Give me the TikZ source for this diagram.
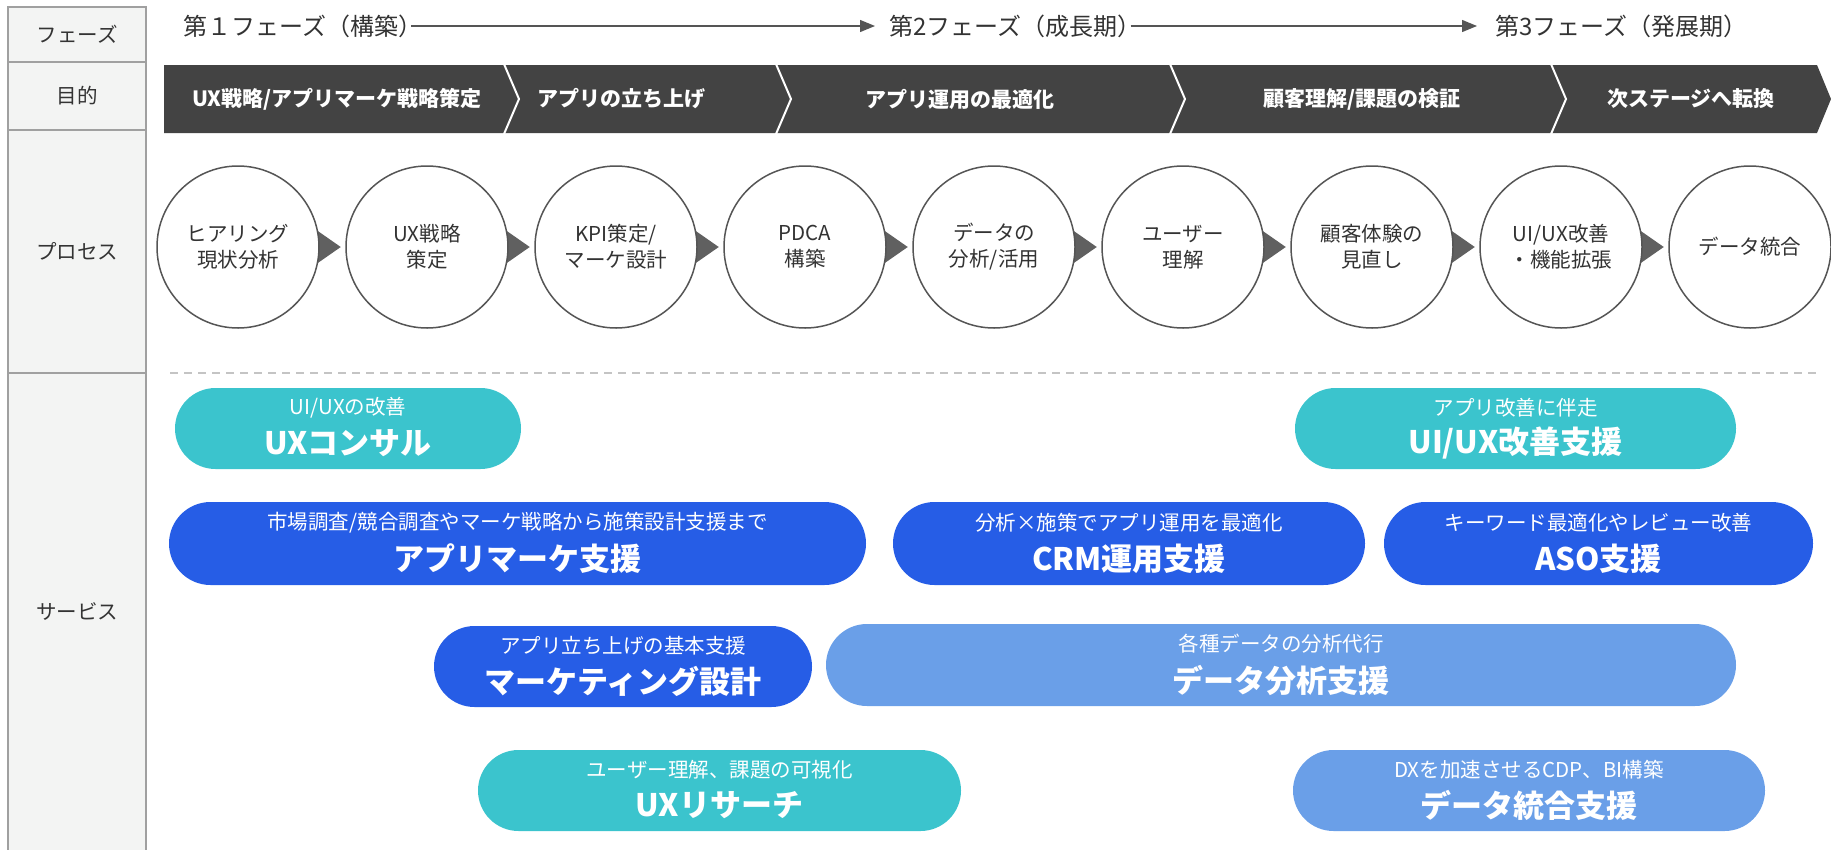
\documentclass[tikz,border=0pt]{standalone}
\usepackage{fontspec}
\setmainfont{Noto Sans CJK JP}
\usetikzlibrary{arrows.meta,shapes.misc,calc,backgrounds}
\definecolor{cyanp}{HTML}{3BC4CD}
\definecolor{bluep}{HTML}{265DE6}
\definecolor{lightp}{HTML}{6A9FE8}
\definecolor{band}{HTML}{434343}
\definecolor{cellfill}{HTML}{F3F4F3}
\definecolor{cellline}{HTML}{A0A0A0}
\definecolor{txt}{HTML}{333333}
\definecolor{ring}{HTML}{555555}
\definecolor{tri}{HTML}{606060}
\definecolor{dashc}{HTML}{C4C4C4}

\newcommand\svc[8]{%
  \node[pill, fill=#6, minimum width=#4pt, minimum height=#5pt] (#1) at (#2,#3) {};
  \node[smalltxt] (#1s) at ($(#1.center)+(0,-21)$) {#7};
  \node[bigtxt] (#1b) at ($(#1.center)+(0,15)$) {#8};
}

\tikzset{
  cell/.style={draw=cellline, fill=cellfill, line width=1.8pt, minimum width=138pt, inner sep=0, text=txt, font=\fontsize{20.5}{22}\selectfont},
  phase/.style={anchor=west, inner sep=0, text=txt, font=\fontsize{24}{28}\selectfont},
  goal/.style={text=white, inner sep=0, font=\fontsize{21}{24}\selectfont\bfseries},
  proc/.style={circle, draw=ring, line width=1.5pt, fill=white, minimum size=162pt, inner sep=0, align=center, text=txt, font=\fontsize{20.5}{26}\selectfont},
  pill/.style={rounded rectangle, draw=none, inner sep=0},
  smalltxt/.style={text=white, inner sep=0, font=\fontsize{20.5}{23}\selectfont},
  bigtxt/.style={text=white, inner sep=0, font=\fontsize{31}{35}\selectfont\bfseries},
  phasearrow/.style={draw=ring, line width=1.3pt, -{Triangle[length=15pt,width=12pt]}},
  sepline/.style={draw=dashc, line width=2pt, dash pattern=on 8pt off 6pt},
  trifill/.style={fill=tri}
}

\begin{document}
\begin{tikzpicture}[x=1pt,y=-1pt]
\useasboundingbox (0,0) rectangle (1831,849);

% left header column
\node[cell, minimum height=55pt] (hphase) at (77,34.5) {フェーズ};
\node[cell, minimum height=68pt] (hgoal) at (77,96) {目的};
\node[cell, minimum height=243pt] (hproc) at (77,251.5) {プロセス};
\node[cell, minimum height=478pt] (hsvc) at (77,612) {サービス};

% phases
\node[phase] (p1) at (183,26) {第１フェーズ（構築）};
\node[phase] (p2) at (889,26) {第2フェーズ（成長期）};
\node[phase] (p3) at (1495,26) {第3フェーズ（発展期）};
\draw[phasearrow] ([xshift=-11pt]p1.east) -- ([xshift=-14pt]p2.west);
\draw[phasearrow] ([xshift=-11pt]p2.east) -- ([xshift=-18pt]p3.west);

% goal chevron band
\fill[band] (164,65) -- (1817,65) -- (1831,99) -- (1817,133) -- (164,133) -- cycle;
\foreach \x in {504,776,1170,1551}
  \draw[white, line width=2pt] (\x,64) -- (\x+15,99) -- (\x,134);
\node[goal] (g1) at (337,99) {UX戦略/アプリマーケ戦略策定};
\node[goal] (g2) at (621,99) {アプリの立ち上げ};
\node[goal] (g3) at (960,99) {アプリ運用の最適化};
\node[goal] (g4) at (1362,99) {顧客理解/課題の検証};
\node[goal] (g5) at (1691,99) {次ステージへ転換};

% process circles
\node[proc] (c1) at (238,247) {ヒアリング\\現状分析};
\node[proc] (c2) at (427,247) {UX戦略\\策定};
\node[proc] (c3) at (616,247) {KPI策定/\\マーケ設計};
\node[proc] (c4) at (805,247) {PDCA\\構築};
\node[proc] (c5) at (994,247) {データの\\分析/活用};
\node[proc] (c6) at (1183,247) {ユーザー\\理解};
\node[proc] (c7) at (1372,247) {顧客体験の\\見直し};
\node[proc] (c8) at (1561,247) {UI/UX改善\\・機能拡張};
\node[proc] (c9) at (1750,247) {データ統合};
\begin{scope}[on background layer]
\foreach \a/\b in {c1/c2,c2/c3,c3/c4,c4/c5,c5/c6,c6/c7,c7/c8,c8/c9}
  \fill[trifill] ($(\a.east)+(-12,-23)$) -- ($(\a.east)+(21,0)$) -- ($(\a.east)+(-12,23)$) -- cycle;
\end{scope}

% separator
\coordinate (dl) at (170,373);
\coordinate (dr) at (1816,373);
\draw[sepline] (dl) -- (dr);

% services
\svc{u1}{348}{428.5}{346}{81}{cyanp}{UI/UXの改善}{UXコンサル}
\svc{u2}{1515.5}{428.5}{441}{81}{cyanp}{アプリ改善に伴走}{UI/UX改善支援}
\svc{m1}{517.5}{543.5}{697}{83}{bluep}{市場調査/競合調査やマーケ戦略から施策設計支援まで}{アプリマーケ支援}
\svc{m2}{1129}{543.5}{472}{83}{bluep}{分析×施策でアプリ運用を最適化}{CRM運用支援}
\svc{m3}{1598.5}{543.5}{429}{83}{bluep}{キーワード最適化やレビュー改善}{ASO支援}
\svc{k1}{623}{666.5}{378}{81}{bluep}{アプリ立ち上げの基本支援}{マーケティング設計}
\svc{d1}{1281}{665}{910}{82}{lightp}{各種データの分析代行}{データ分析支援}
\svc{r1}{719.5}{790.5}{483}{81}{cyanp}{ユーザー理解、課題の可視化}{UXリサーチ}
\svc{d2}{1529}{790.5}{472}{81}{lightp}{DXを加速させるCDP、BI構築}{データ統合支援}
\end{tikzpicture}
\end{document}
